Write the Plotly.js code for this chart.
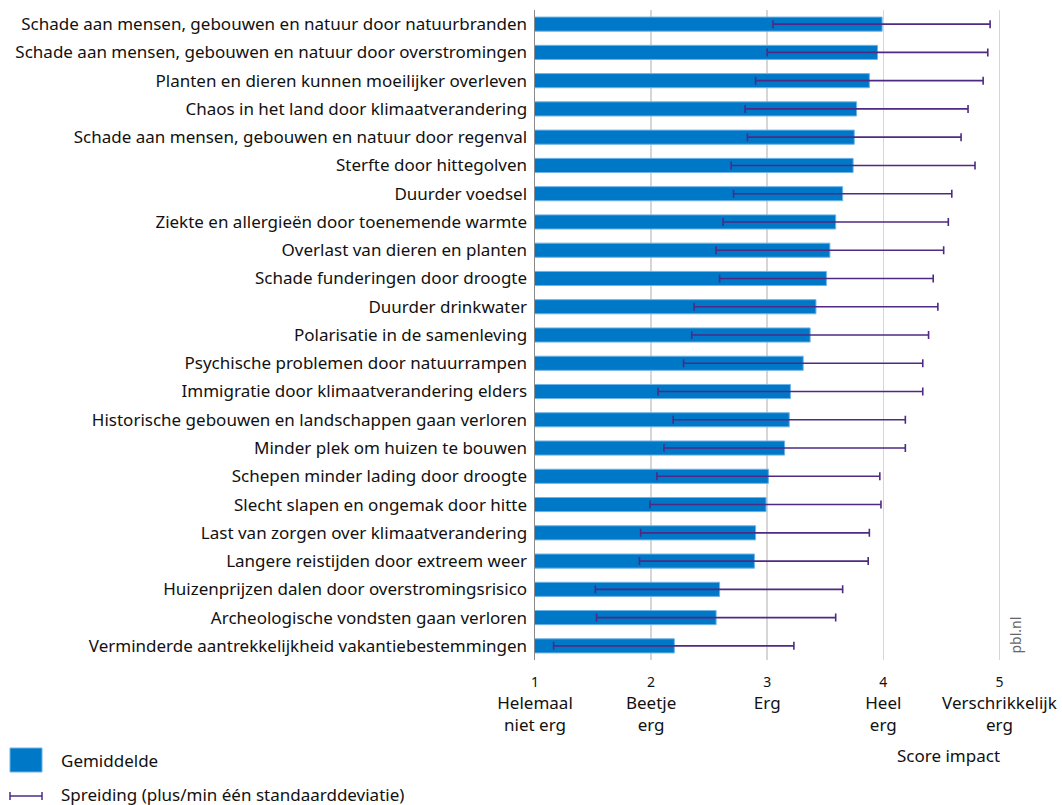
<!DOCTYPE html>
<html><head><meta charset="utf-8">
<script src="https://cdn.plot.ly/plotly-3.0.1.min.js"></script>
<style>html,body{margin:0;padding:0;background:#fff}#chart{width:1062px;height:805px}</style>
</head><body><div id="chart"></div>
<script>
const categories = [
 "Schade aan mensen, gebouwen en natuur door natuurbranden",
 "Schade aan mensen, gebouwen en natuur door overstromingen",
 "Planten en dieren kunnen moeilijker overleven",
 "Chaos in het land door klimaatverandering",
 "Schade aan mensen, gebouwen en natuur door regenval",
 "Sterfte door hittegolven",
 "Duurder voedsel",
 "Ziekte en allergieën door toenemende warmte",
 "Overlast van dieren en planten",
 "Schade funderingen door droogte",
 "Duurder drinkwater",
 "Polarisatie in de samenleving",
 "Psychische problemen door natuurrampen",
 "Immigratie door klimaatverandering elders",
 "Historische gebouwen en landschappen gaan verloren",
 "Minder plek om huizen te bouwen",
 "Schepen minder lading door droogte",
 "Slecht slapen en ongemak door hitte",
 "Last van zorgen over klimaatverandering",
 "Langere reistijden door extreem weer",
 "Huizenprijzen dalen door overstromingsrisico",
 "Archeologische vondsten gaan verloren",
 "Verminderde aantrekkelijkheid vakantiebestemmingen"
];
const meanScore = [3.99,3.95,3.88,3.77,3.75,3.74,3.65,3.59,3.54,3.51,3.42,3.37,3.31,3.20,3.19,3.15,3.01,2.99,2.90,2.89,2.59,2.56,2.20];
const lowerSD   = [3.05,3.00,2.90,2.81,2.83,2.69,2.71,2.62,2.56,2.59,2.37,2.35,2.28,2.06,2.19,2.11,2.05,1.99,1.91,1.90,1.52,1.53,1.16];
const upperSD   = [4.92,4.90,4.86,4.73,4.67,4.79,4.59,4.56,4.52,4.43,4.47,4.39,4.34,4.34,4.19,4.19,3.97,3.98,3.88,3.87,3.65,3.59,3.23];
const tickVals = [1,2,3,4,5];
const tickNums = ["1","2","3","4","5"];
const tickWords = ["Helemaal<br>niet erg","Beetje<br>erg","Erg","Heel<br>erg","Verschrikkelijk<br>erg"];
const legendLabels = ["Gemiddelde","Spreiding (plus/min één standaarddeviatie)"];

const barColor = "#0078c8";
const errColor = "#4e2a84";
const font = "Noto Sans, sans-serif";

const trace = {
  type: "bar", orientation: "h",
  y: categories, x: meanScore, base: 0,
  marker: {color: barColor, line: {color: "#6fb3e6", width: 1}},
  width: 0.5,
  error_x: {type: "data", symmetric: false,
    array: upperSD.map((u,i)=> +(u-meanScore[i]).toFixed(3)),
    arrayminus: lowerSD.map((l,i)=> +(meanScore[i]-l).toFixed(3)),
    color: errColor, thickness: 1.6, width: 4},
  hoverinfo: "x+y", showlegend: false
};

const layout = {
  width: 1062, height: 805,
  margin: {l: 535, r: 51, t: 10, b: 145},
  paper_bgcolor: "#fff", plot_bgcolor: "#fff",
  font: {family: font, size: 17, color: "#111"},
  bargap: 0.5,
  xaxis: {range: [1, 5.1], tickvals: tickVals,
    ticktext: tickVals.map((v,i)=> '<span style="font-size:14px">'+tickNums[i]+'</span><br>'+tickWords[i]),
    showgrid: true, gridcolor: "#d6d6d6", gridwidth: 1.5, zeroline: false,
    showline: false, ticks: "", ticklabelstandoff: 9, fixedrange: true},
  yaxis: {autorange: "reversed", showline: true, linecolor: "#8a8a8a", linewidth: 1.5,
    ticks: "", ticklabelstandoff: 3, showgrid: false, fixedrange: true},
  shapes: [
    {type: "rect", xref: "paper", yref: "paper", xsizemode: "pixel", ysizemode: "pixel",
     xanchor: 0, yanchor: 0, x0: -525, x1: -493, y0: -88, y1: -112,
     fillcolor: barColor, line: {color: "#6fb3e6", width: 1}},
    {type: "line", xref: "paper", yref: "paper", xsizemode: "pixel", ysizemode: "pixel",
     xanchor: 0, yanchor: 0, x0: -525, x1: -493, y0: -136, y1: -136, line: {color: errColor, width: 1.5}},
    {type: "line", xref: "paper", yref: "paper", xsizemode: "pixel", ysizemode: "pixel",
     xanchor: 0, yanchor: 0, x0: -525, x1: -525, y0: -132, y1: -140, line: {color: errColor, width: 1.5}},
    {type: "line", xref: "paper", yref: "paper", xsizemode: "pixel", ysizemode: "pixel",
     xanchor: 0, yanchor: 0, x0: -493, x1: -493, y0: -132, y1: -140, line: {color: errColor, width: 1.5}}
  ],
  annotations: [
    {text: legendLabels[0], xref: "paper", yref: "paper", x: 0, y: 0, xshift: -476, yshift: -100,
     xanchor: "left", yanchor: "middle", showarrow: false, font: {size: 17}},
    {text: legendLabels[1], xref: "paper", yref: "paper", x: 0, y: 0, xshift: -476, yshift: -134,
     xanchor: "left", yanchor: "middle", showarrow: false, font: {size: 17}},
    {text: "Score impact", xref: "x", yref: "paper", x: 4.56, y: 0, yshift: -95,
     xanchor: "center", yanchor: "middle", showarrow: false, font: {size: 17}},
    {text: "pbl.nl", xref: "paper", yref: "paper", x: 1, y: 0, xshift: 4, yshift: 4,
     xanchor: "center", yanchor: "bottom", textangle: -90, showarrow: false, font: {size: 14, color: "#666"}}
  ]
};

Plotly.newPlot("chart", [trace], layout, {displayModeBar: false, staticPlot: true});
</script></body></html>
